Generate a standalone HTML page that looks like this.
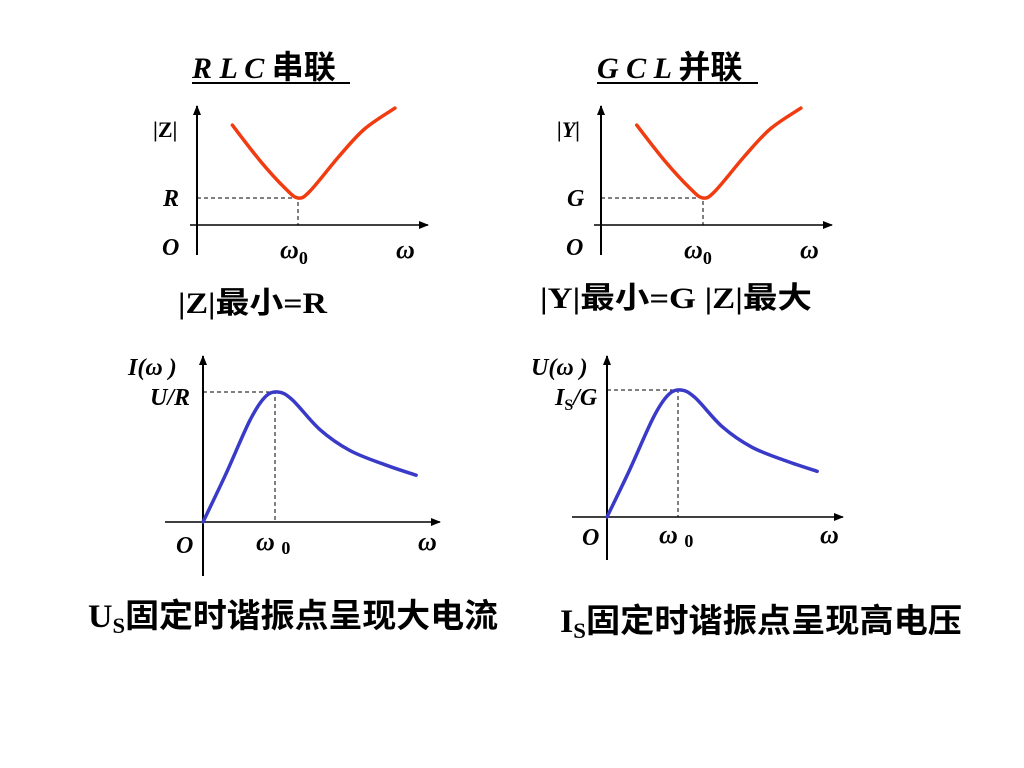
<!DOCTYPE html>
<html><head><meta charset="utf-8"><style>
body{margin:0;background:#fff;width:1024px;height:768px;overflow:hidden}
svg{display:block}
text{font-family:"Liberation Serif","Noto Serif CJK SC",serif;font-weight:bold;fill:#000}
.cj{font-family:"Liberation Serif","Noto Sans CJK SC",sans-serif}
</style></head><body>
<svg id="s" width="1024" height="768" viewBox="0 0 1024 768">
<defs><marker id="ar" markerWidth="10" markerHeight="8" refX="9" refY="4" orient="auto" markerUnits="userSpaceOnUse"><path d="M0,0 L10,4 L0,8 Z" fill="#000"/></marker></defs>
<g><text x="192" y="78" font-size="30" font-style="italic">R L C <tspan class="cj" font-style="normal" font-size="32">串联</tspan></text><line x1="192" y1="83" x2="350" y2="83" stroke="#000" stroke-width="2"/></g>
<g><text x="597" y="78" font-size="30" font-style="italic">G C L <tspan class="cj" font-style="normal" font-size="32">并联</tspan></text><line x1="597" y1="83" x2="758" y2="83" stroke="#000" stroke-width="2"/></g>

<text x="153" y="137" font-size="22">|Z|</text>
<text x="163" y="206" font-size="24" font-style="italic">R</text>
<text x="162" y="255" font-size="24" font-style="italic">O</text>
<text x="280" y="258" font-size="26" font-style="italic">ω<tspan font-size="18" font-style="normal" dy="6">0</tspan></text>
<text x="396" y="258" font-size="26" font-style="italic">ω</text>
<text x="178" y="313" font-size="30" class="cj" textLength="149" lengthAdjust="spacingAndGlyphs">|Z|最小=R</text>

<text x="557" y="137" font-size="22" font-style="italic">|Y|</text>
<text x="567" y="206" font-size="24" font-style="italic">G</text>
<text x="566" y="255" font-size="24" font-style="italic">O</text>
<text x="684" y="258" font-size="26" font-style="italic">ω<tspan font-size="18" font-style="normal" dy="6">0</tspan></text>
<text x="800" y="258" font-size="26" font-style="italic">ω</text>
<text x="540" y="308" font-size="30" class="cj" textLength="272" lengthAdjust="spacingAndGlyphs">|Y|最小=G  |Z|最大</text>

<text x="128" y="375" font-size="24" font-style="italic">I(ω )</text>
<text x="150" y="405" font-size="24" font-style="italic">U/R</text>
<text x="176" y="553" font-size="24" font-style="italic">O</text>
<text x="256" y="550" font-size="26" font-style="italic">ω <tspan font-size="18" font-style="normal" dy="4">0</tspan></text>
<text x="418" y="550" font-size="26" font-style="italic">ω</text>

<text x="531" y="375" font-size="24" font-style="italic">U(ω )</text>
<text x="555" y="405" font-size="24" font-style="italic">I<tspan font-size="16" font-style="normal" dy="5">S</tspan><tspan dy="-5">/G</tspan></text>
<text x="582" y="545" font-size="24" font-style="italic">O</text>
<text x="659" y="543" font-size="26" font-style="italic">ω <tspan font-size="18" font-style="normal" dy="4">0</tspan></text>
<text x="820" y="543" font-size="26" font-style="italic">ω</text>

<text x="88" y="627" font-size="33" class="cj" textLength="410" lengthAdjust="spacingAndGlyphs">U<tspan font-size="22" dy="6">S</tspan><tspan dy="-6">固定时谐振点呈现大电流</tspan></text>
<text x="560" y="632" font-size="33" class="cj" textLength="402" lengthAdjust="spacingAndGlyphs">I<tspan font-size="22" dy="6">S</tspan><tspan dy="-6">固定时谐振点呈现高电压</tspan></text>
<g id="plots"></g>
</svg>
<script>
const zW=[0.35,0.62,0.87,1.0,1.12,1.41,1.66,1.96];
const zV=[3.7,2.4,1.37,1.0,1.26,2.56,3.56,4.33];
const iW=[0,0.31,0.65,0.86,1.04,1.24,1.625,2.04,2.53,2.96];
const iV=[0,0.36,0.78,0.96,1.0,0.94,0.71,0.55,0.44,0.36];
const NS='http://www.w3.org/2000/svg';
const g=document.getElementById('plots');
function mk(t,a){const e=document.createElementNS(NS,t);for(const k in a)e.setAttribute(k,a[k]);g.appendChild(e);return e;}
function chart(p,pre){
  const sx=v=>p.ox+v*p.kx, sy=v=>p.oy-v*p.ky;
  let e=mk('line',{x1:p.ox,y1:p.yb,x2:p.ox,y2:p.yt,stroke:'#000','stroke-width':2,'marker-end':'url(#ar)'});
  
  
  e=mk('line',{x1:p.xl,y1:p.oy,x2:p.xr,y2:p.oy,stroke:'#000','stroke-width':1.5,'marker-end':'url(#ar)'});
  
  
  e=mk('path',{d:`M${p.ox},${sy(1)} H${sx(1)} V${p.oy}`,stroke:'#000','stroke-width':1,'stroke-dasharray':'4,3',fill:'none'});
  
  
  let pts=p.w.map((w,i)=>[sx(w),sy(p.v[i])]);
  let d='M'+pts[0].join(',');
  for(let i=1;i<pts.length;i++){const p0=pts[i-1],p1=pts[i],pm=pts[i-2]||p0,pn=pts[i+1]||p1;
    const c1=[p0[0]+(p1[0]-pm[0])/6,p0[1]+(p1[1]-pm[1])/6],c2=[p1[0]-(pn[0]-p0[0])/6,p1[1]-(pn[1]-p0[1])/6];
    d+=` C${c1.join(',')} ${c2.join(',')} ${p1.join(',')}`;}
  e=mk('path',{d,stroke:p.c,'stroke-width':3.5,fill:'none','stroke-linecap':'round'});
  
  
}
chart({ox:197,oy:225,kx:101,ky:27,yb:255,yt:106,xl:190,xr:428,w:zW,v:zV,c:'#f03c10'},'z');
chart({ox:601,oy:225,kx:102,ky:27,yb:255,yt:106,xl:594,xr:832,w:zW,v:zV,c:'#f03c10'},'y');
chart({ox:203,oy:522,kx:72,ky:130,yb:576,yt:356,xl:165,xr:440,w:iW,v:iV,c:'#3a3ac8'},'i');
chart({ox:607,oy:517,kx:71,ky:127,yb:560,yt:356,xl:572,xr:843,w:iW,v:iV,c:'#3a3ac8'},'u');
</script>
</body></html>
